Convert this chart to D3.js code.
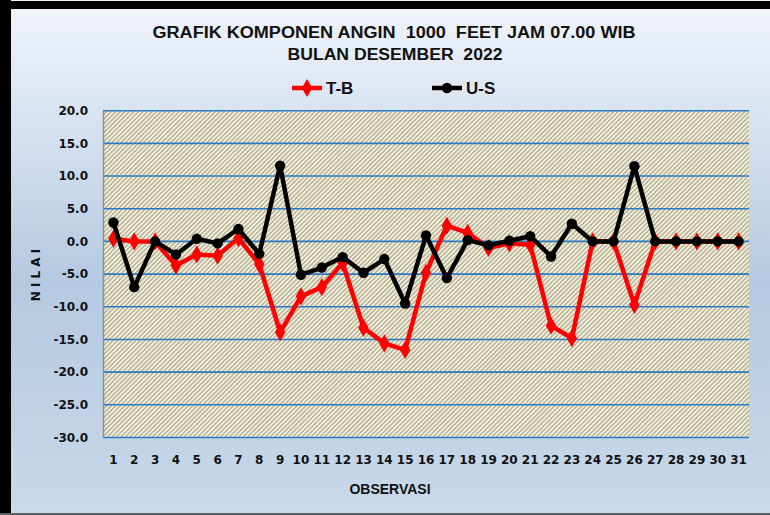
<!DOCTYPE html>
<html><head><meta charset="utf-8">
<script src="https://cdn.jsdelivr.net/npm/d3@7"></script>
<style>html,body{margin:0;padding:0;background:#fff;}svg{display:block;}text.pre{white-space:pre;}</style>
</head><body>
<svg id="chart" width="770" height="515"></svg>
<script>
const categories = ["1","2","3","4","5","6","7","8","9","10","11","12","13","14","15","16","17","18","19","20","21","22","23","24","25","26","27","28","29","30","31"];
const seriesTB = [0.4, 0.0, 0.0, -3.7, -2.0, -2.2, 0.5, -3.5, -13.9, -8.4, -7.0, -3.3, -13.2, -15.6, -16.6, -4.8, 2.4, 1.3, -1.0, -0.3, -0.5, -12.9, -14.8, 0.0, 0.0, -9.7, 0.0, 0.0, 0.0, 0.0, 0.0];
const seriesUS = [2.9, -7.0, 0.0, -2.0, 0.4, -0.3, 1.9, -1.9, 11.6, -5.1, -4.0, -2.4, -4.8, -2.7, -9.5, 0.9, -5.6, 0.2, -0.6, 0.1, 0.8, -2.3, 2.7, 0.0, 0.0, 11.5, 0.0, 0.0, 0.0, 0.0, 0.0];
const yTicks = [-30, -25, -20, -15, -10, -5, 0, 5, 10, 15, 20];
const seriesNames = ["T-B", "U-S"];
const titleLines = ["GRAFIK KOMPONEN ANGIN  1000  FEET JAM 07.00 WIB", "BULAN DESEMBER  2022"];
const xTitle = "OBSERVASI";
const yTitle = "N I L A I";

const W = 770, H = 515;
const svg = d3.select("#chart");
const defs = svg.append("defs");

const bg = defs.append("linearGradient").attr("id","bgGrad").attr("x1",0).attr("y1",0).attr("x2",0).attr("y2",1);
bg.append("stop").attr("offset","0%").attr("stop-color","#f1f5fb");
bg.append("stop").attr("offset","55%").attr("stop-color","#b5c9e2");
bg.append("stop").attr("offset","100%").attr("stop-color","#cad9eb");

const pat = defs.append("pattern").attr("id","hatch").attr("patternUnits","userSpaceOnUse")
  .attr("width",3.2).attr("height",3.2).attr("patternTransform","rotate(45)");
pat.append("rect").attr("width",3.2).attr("height",3.2).attr("fill","#f3f1e8");
pat.append("rect").attr("width",1.6).attr("height",3.2).attr("fill","#bcb592");

// background & frame
svg.append("rect").attr("x",0).attr("y",0).attr("width",W).attr("height",H).attr("fill","url(#bgGrad)");
svg.append("rect").attr("x",0).attr("y",0).attr("width",11).attr("height",H).attr("fill","#000");
svg.append("rect").attr("x",0).attr("y",1).attr("width",W).attr("height",8).attr("fill","#000");
svg.append("rect").attr("x",0).attr("y",513).attr("width",W).attr("height",2).attr("fill","#5a5f66");

const plot = {left:103, right:749, top:110.7, bottom:437.5};

const x = d3.scaleBand().domain(categories).range([plot.left, plot.right]).padding(0);
const y = d3.scaleLinear().domain([-30, 20]).range([plot.bottom, plot.top]);
const cx = c => x(c) + x.bandwidth()/2;

svg.append("rect").attr("x",plot.left).attr("y",plot.top).attr("width",plot.right-plot.left)
  .attr("height",plot.bottom-plot.top).attr("fill","url(#hatch)");

// gridlines
svg.append("g").selectAll("line").data(yTicks).join("line")
  .attr("x1",plot.left).attr("x2",plot.right)
  .attr("y1",d=>y(d)).attr("y2",d=>y(d))
  .attr("stroke","#2b7bc4").attr("stroke-width",1.6);

// y axis
const fmt = v => d3.format(".1f")(v).replace("\u2212","-");
const yAxis = svg.append("g").attr("transform",`translate(${plot.left},0)`)
  .call(d3.axisLeft(y).tickValues(yTicks).tickFormat(fmt).tickSize(0).tickPadding(15));
yAxis.select(".domain").attr("stroke","#8a8f96").attr("stroke-width",1.5);
yAxis.selectAll("text").attr("font-family","'DejaVu Sans', Verdana, sans-serif")
  .attr("font-weight","bold").attr("font-size",12).attr("fill","#111");

// x axis
const xAxis = svg.append("g").attr("transform",`translate(0,${plot.bottom})`)
  .call(d3.axisBottom(x).tickSize(0).tickPadding(18));
xAxis.select(".domain").remove();
xAxis.selectAll("text").attr("font-family","'DejaVu Sans', Verdana, sans-serif")
  .attr("font-weight","bold").attr("font-size",12).attr("fill","#111");

// series
const line = d3.line().x((d,i)=>cx(categories[i])).y(d=>y(d));
const diamond = d3.symbol().type(d3.symbolDiamond).size(95);

svg.append("path").datum(seriesTB).attr("d",line).attr("fill","none")
  .attr("stroke","#ff0000").attr("stroke-width",4.5).attr("stroke-linejoin","round");
svg.append("g").selectAll("path").data(seriesTB).join("path")
  .attr("transform",(d,i)=>`translate(${cx(categories[i])},${y(d)})`)
  .attr("d",diamond).attr("fill","#ff0000");

svg.append("path").datum(seriesUS).attr("d",line).attr("fill","none")
  .attr("stroke","#000").attr("stroke-width",4.5).attr("stroke-linejoin","round");
svg.append("g").selectAll("circle").data(seriesUS).join("circle")
  .attr("cx",(d,i)=>cx(categories[i])).attr("cy",d=>y(d)).attr("r",5.2).attr("fill","#000");

// titles
const titleFont = "'Liberation Sans Narrow', 'Arial Narrow', 'Liberation Sans', sans-serif";
svg.append("text").attr("class","pre").attr("x",394).attr("y",38).attr("text-anchor","middle")
  .attr("font-family",titleFont).attr("font-weight","bold").attr("font-size",16).attr("fill","#111")
  .attr("textLength",483).attr("lengthAdjust","spacingAndGlyphs").text(titleLines[0]);
svg.append("text").attr("class","pre").attr("x",395).attr("y",60).attr("text-anchor","middle")
  .attr("font-family",titleFont).attr("font-weight","bold").attr("font-size",16).attr("fill","#111")
  .attr("textLength",215).attr("lengthAdjust","spacingAndGlyphs").text(titleLines[1]);

// legend
const lg = svg.append("g");
const legendItems = [
  {name: seriesNames[0], color:"#ff0000", sym:"diamond", x0:292},
  {name: seriesNames[1], color:"#000000", sym:"circle", x0:432}
];
legendItems.forEach(it=>{
  lg.append("line").attr("x1",it.x0).attr("x2",it.x0+30).attr("y1",88).attr("y2",88)
    .attr("stroke",it.color).attr("stroke-width",4.5);
  if (it.sym==="diamond") {
    lg.append("path").attr("transform",`translate(${it.x0+15},88)`).attr("d",diamond).attr("fill",it.color);
  } else {
    lg.append("circle").attr("cx",it.x0+15).attr("cy",88).attr("r",5.2).attr("fill",it.color);
  }
  lg.append("text").attr("x",it.x0+34).attr("y",94).attr("font-family",titleFont)
    .attr("font-weight","bold").attr("font-size",17).attr("fill","#111").text(it.name);
});

// axis titles
svg.append("text").attr("x",390).attr("y",494).attr("text-anchor","middle")
  .attr("font-family",titleFont).attr("font-weight","bold").attr("font-size",14).attr("fill","#111")
  .text(xTitle);
svg.append("text").attr("class","pre").attr("transform","translate(40,275) rotate(-90)").attr("text-anchor","middle")
  .attr("font-family","'DejaVu Sans', sans-serif").attr("font-weight","bold").attr("font-size",12)
  .attr("fill","#111").text(yTitle);
</script>
</body></html>
